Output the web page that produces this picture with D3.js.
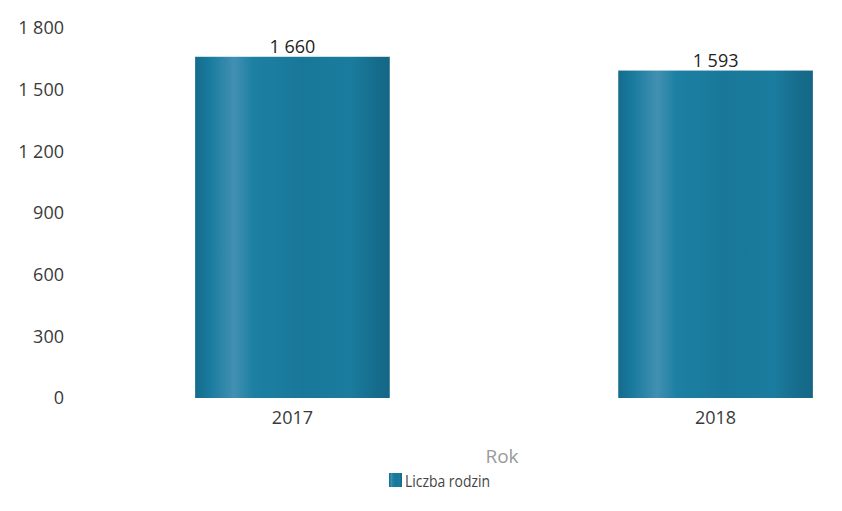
<!DOCTYPE html>
<html>
<head>
<meta charset="utf-8">
<script src="https://cdn.jsdelivr.net/npm/d3@7"></script>
<style>
  body { margin: 0; background: #fff; }
  text { font-family: "Open Sans", sans-serif; }
  .tick-text { font-size: 18px; fill: #3a3a3a; }
  .axis-title { font-size: 19px; fill: #9a9a9a; }
  .value-text { font-size: 18px; fill: #222; }
  .legend-text { font-size: 17px; fill: #444; }
</style>
</head>
<body>
<svg id="chart" width="842" height="511"></svg>
<script>
// data
var years = ['2017', '2018'];
var families = [1660, 1593];
var yTicks = [0, 300, 600, 900, 1200, 1500, 1800];
var seriesName = 'Liczba rodzin';
var axisTitle = 'Rok';

var svg = d3.select('#chart');

var pl = d3.formatLocale({decimal: ',', thousands: ' ', grouping: [3], currency: ['', ' zł']});
var fmt = pl.format(',d');

var y = d3.scaleLinear().domain([0, 1800]).range([398, 28]);
var x = d3.scaleBand()
  .domain(years)
  .range([160, 848])
  .paddingInner(0.54)
  .paddingOuter(0.083);

// bar gradient (cylinder look)
var grad = svg.append('defs').append('linearGradient')
  .attr('id', 'barGrad')
  .attr('x1', '0%').attr('x2', '100%')
  .attr('y1', '0%').attr('y2', '0%');
[
  [0, '#156c8c'],
  [0.08, '#1a7c9f'],
  [0.2, '#4290b2'],
  [0.3, '#1c80a2'],
  [0.55, '#19789a'],
  [0.8, '#1a7c9e'],
  [0.93, '#166c8c'],
  [1, '#146686']
].forEach(function(s) {
  grad.append('stop').attr('offset', s[0]).attr('stop-color', s[1]);
});

// y labels
svg.append('g')
  .selectAll('text')
  .data(yTicks)
  .enter().append('text')
    .attr('class', 'tick-text')
    .attr('x', 64)
    .attr('y', function(d) { return y(d); })
    .attr('dy', '0.35em')
    .attr('text-anchor', 'end')
    .text(function(d) { return fmt(d); });

// bars
svg.append('g')
  .selectAll('rect')
  .data(families)
  .enter().append('rect')
    .attr('x', function(d, i) { return x(years[i]); })
    .attr('y', function(d) { return y(d); })
    .attr('width', x.bandwidth())
    .attr('height', function(d) { return y(0) - y(d); })
    .attr('fill', 'url(#barGrad)');

// value labels
svg.append('g')
  .selectAll('text')
  .data(families)
  .enter().append('text')
    .attr('class', 'value-text')
    .attr('x', function(d, i) { return x(years[i]) + x.bandwidth() / 2; })
    .attr('y', function(d) { return y(d) - 4; })
    .attr('text-anchor', 'middle')
    .text(function(d) { return fmt(d); });

// category labels
svg.append('g')
  .selectAll('text')
  .data(years)
  .enter().append('text')
    .attr('class', 'tick-text')
    .attr('x', function(d) { return x(d) + x.bandwidth() / 2; })
    .attr('y', 418)
    .attr('dy', '0.35em')
    .attr('text-anchor', 'middle')
    .text(function(d) { return d; });

// axis title
svg.append('text')
  .attr('class', 'axis-title')
  .attr('x', 502)
  .attr('y', 456)
  .attr('dy', '0.35em')
  .attr('text-anchor', 'middle')
  .text(axisTitle);

// legend
var legend = svg.append('g').attr('transform', 'translate(389, 473)');
legend.append('rect')
  .attr('width', 13).attr('height', 14)
  .attr('fill', 'url(#barGrad)');
legend.append('text')
  .attr('class', 'legend-text')
  .attr('x', 16)
  .attr('y', 8)
  .attr('dy', '0.35em')
  .attr('textLength', 85)
  .attr('lengthAdjust', 'spacingAndGlyphs')
  .text(seriesName);
</script>
</body>
</html>
